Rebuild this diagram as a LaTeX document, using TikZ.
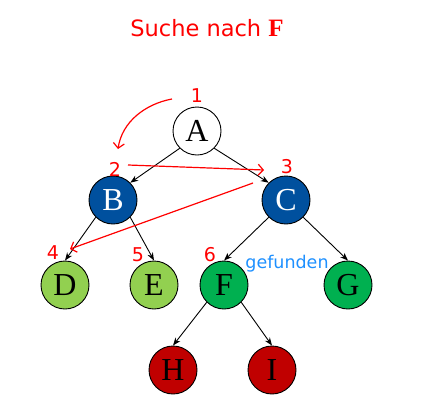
\documentclass[tikz,border=0pt]{standalone}
\usepackage{fontspec}
\setmainfont{Liberation Serif}
\setsansfont{DejaVu Sans}
\usetikzlibrary{arrows.meta}
\definecolor{dblue}{RGB}{0,80,158}
\definecolor{lgreen}{RGB}{146,208,80}
\definecolor{mgreen}{RGB}{0,176,80}
\definecolor{dred}{RGB}{192,0,0}
\definecolor{tred}{RGB}{255,0,0}
\definecolor{fblue}{RGB}{30,144,255}
\tikzset{
  vert/.style={circle, draw=black, line width=0.9pt, minimum size=48pt, inner sep=0pt, font=\fontsize{32}{32}\selectfont},
  edge/.style={-{Stealth[length=8pt,width=6pt]}, line width=0.9pt},
  num/.style={text=tred, font=\sffamily\fontsize{19}{19}\selectfont, inner sep=0pt},
  redarr/.style={draw=tred, line width=1.2pt, -{Straight Barb[length=5pt,width=11pt]}},
}
\begin{document}
\begin{tikzpicture}[x=1pt,y=-1pt]
\useasboundingbox (0,0) rectangle (423,413);
\node[inner sep=0pt, text=tred] (title) at (207,28) {\sffamily\fontsize{22.5}{22.5}\selectfont Suche nach \rmfamily\bfseries\fontsize{25}{25}\selectfont F};
\node[vert, fill=white] (A) at (197,131) {A};
\node[vert, fill=dblue, text=white] (B) at (113,200) {B};
\node[vert, fill=dblue, text=white] (C) at (286,200) {C};
\node[vert, fill=lgreen] (D) at (65,285) {D};
\node[vert, fill=lgreen] (E) at (154,285) {E};
\node[vert, fill=mgreen] (F) at (224,285) {F};
\node[vert, fill=mgreen] (G) at (348,285) {G};
\node[vert, fill=dred] (H) at (173,370) {H};
\node[vert, fill=dred] (I) at (272,370) {I};
\draw[edge] (A.south west) -- (B.north east);
\draw[edge] (A.south east) -- (C.north west);
\draw[edge] (B.south west) -- (D.north);
\draw[edge] (B.south east) -- (E.north);
\draw[edge] (C.south west) -- (F.north);
\draw[edge] (C.south east) -- (G.north);
\draw[edge] (F.south west) -- (H.north);
\draw[edge] (F.south east) -- (I.north);
\node[num] (n1) at (197,96) {1};
\node[num] (n2) at (115,169) {2};
\node[num] (n3) at (287,167) {3};
\node[num] (n4) at (53,253) {4};
\node[num] (n5) at (138,255) {5};
\node[num] (n6) at (210,255) {6};
\node[text=fblue, font=\sffamily\fontsize{17.5}{17.5}\selectfont, inner sep=0pt] (gef) at (287,264) {gefunden};
\coordinate (c1s) at (172,99);
\coordinate (c1e) at (118,149);
\coordinate (c2s) at (128,165);
\coordinate (c2e) at (264,170);
\coordinate (c3s) at (253,183);
\coordinate (c3e) at (70,249);
\draw[redarr] (c1s) .. controls (145,104) and (122,122) .. (c1e);
\draw[redarr] (c2s) -- (c2e);
\draw[redarr] (c3s) -- (c3e);
\end{tikzpicture}
\end{document}
